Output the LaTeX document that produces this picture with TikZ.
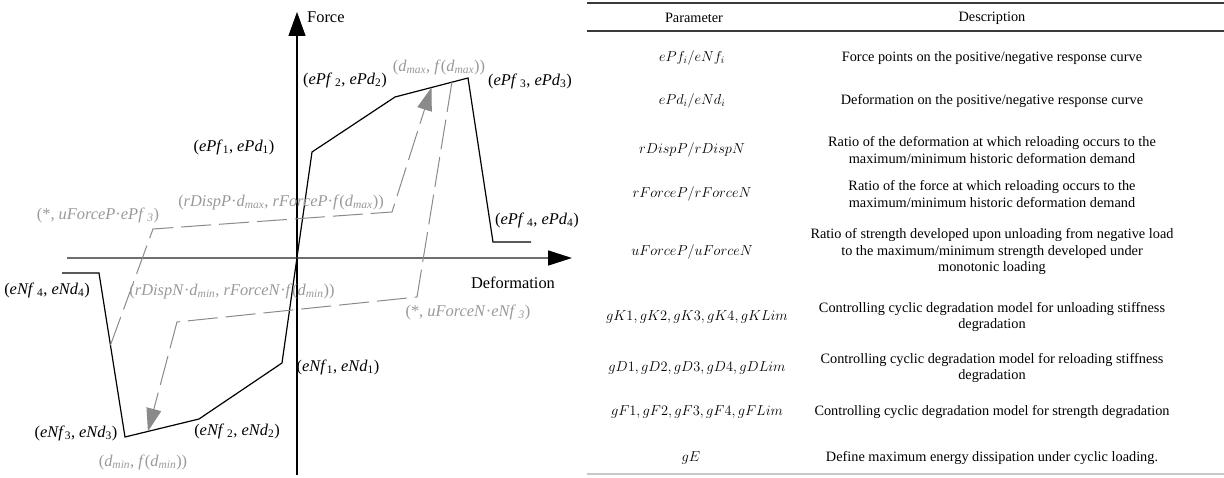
\documentclass[tikz,border=0pt]{standalone}
\usepackage{fontspec}
\setmainfont{Liberation Serif}
\usetikzlibrary{arrows.meta,calc}

\definecolor{loopgray}{HTML}{8A8A8A}
\definecolor{labgray}{HTML}{999999}
\definecolor{axisgray}{HTML}{6E6E6E}
\definecolor{rulegray}{HTML}{C8C8C8}
\definecolor{ruledark}{HTML}{3A3A3A}

\newcommand{\sub}[1]{\textsubscript{#1}}
\newcommand{\isub}[1]{\textsubscript{\itshape #1}}

\begin{document}
\begin{tikzpicture}[x=1pt,y=-1pt,
  lab/.style={font=\fontsize{16.4}{19}\selectfont, inner sep=0pt, anchor=center},
  glab/.style={lab, text=labgray},
  backbone/.style={line width=1.2pt, black, line join=miter},
  cyc/.style={line width=1pt, loopgray, dash pattern=on 30pt off 8pt},
  cyctip/.style={-{Triangle[length=23pt,width=15pt,color=loopgray,fill=loopgray]}},
  cell/.style={font=\fontsize{14.3}{16.5}\selectfont, inner sep=0pt, align=center, anchor=center},
  pcell/.style={font=\fontsize{14.5}{16}\selectfont, inner sep=0pt, anchor=center}
]
\useasboundingbox (0,0) rectangle (1224,478);

% ---------------- axes ----------------
\coordinate (O) at (297,258);
\coordinate (ybot) at (297,475);
\coordinate (ytop) at (297,12);
\coordinate (xleft) at (67,258);
\coordinate (xright) at (572,258);
\draw[line width=1.3pt, black, -{Triangle[length=24pt,width=17pt]}] (ybot) -- (ytop);
\draw[line width=1.5pt, axisgray, -{Triangle[length=24pt,width=15pt,color=black,fill=black]}] (xleft) -- (xright);
\node[lab, anchor=west] (force) at (307,17) {Force};
\node[lab] (deform) at (513,283) {Deformation};

% ---------------- backbone curve ----------------
\coordinate (N4a) at (62,273);
\coordinate (N4) at (99,273);
\coordinate (N3) at (125,437);
\coordinate (N2) at (199,419);
\coordinate (N1) at (282,363);
\coordinate (P1) at (312,152);
\coordinate (P2) at (395,97);
\coordinate (P3) at (468,78);
\coordinate (P4) at (493,242);
\coordinate (P4b) at (531,242);
\draw[backbone] (N4a) -- (N4) -- (N3) -- (N2) -- (N1) -- (P1) -- (P2) -- (P3) -- (P4) -- (P4b);

% ---------------- cyclic path ----------------
\coordinate (A0) at ($(N4)!0.44!(N3)$);
\coordinate (A1) at (153,229);
\coordinate (A2) at (392,212);
\coordinate (Amax) at ($(P2)!0.5!(P3)$);
\coordinate (B0) at ($(P2)!0.78!(P3)$);
\coordinate (B1) at (417,297);
\coordinate (B2) at (177,322);
\coordinate (Bmin) at ($(N3)!0.31!(N2)$);
\draw[cyc, cyctip] (A0) -- (A1) -- (A2) -- (Amax);
\draw[cyc, cyctip] (B0) -- (B1) -- (B2) -- (Bmin);

% ---------------- backbone labels ----------------
\node[lab] (lP1) at (234,147) {(\textit{ePf}\sub{1}, \textit{ePd}\sub{1})};
\node[lab] (lP2) at (345,80) {(\textit{ePf}\,\sub{2}, \textit{ePd}\sub{2})};
\node[lab] (lP3) at (530,81) {(\textit{ePf}\,\sub{3}, \textit{ePd}\sub{3})};
\node[lab] (lP4) at (537,220) {(\textit{ePf}\,\sub{4}, \textit{ePd}\sub{4})};
\node[lab] (lN4) at (47,290) {(\textit{eNf}\,\sub{4}, \textit{eNd}\sub{4})};
\node[lab] (lN3) at (76,433) {(\textit{eNf}\sub{3}, \textit{eNd}\sub{3})};
\node[lab] (lN2) at (237,431) {(\textit{eNf}\,\sub{2}, \textit{eNd}\sub{2})};
\node[lab] (lN1) at (338,367) {(\textit{eNf}\sub{1}, \textit{eNd}\sub{1})};

% ---------------- cyclic path labels ----------------
\node[glab] (ldmax) at (439,67) {(\textit{d}\isub{max}, \textit{f}(\textit{d}\isub{max}))};
\node[glab] (lrP) at (281,202) {(\textit{rDispP}·\textit{d}\isub{max}, \textit{rForceP}·\textit{f}(\textit{d}\isub{max}))};
\node[glab] (luP) at (98,215) {(*, \textit{uForceP}·\textit{ePf}\,\isub{3})};
\node[glab] (lrN) at (232,291) {(\textit{rDispN}·\textit{d}\isub{min}, \textit{rForceN}·\textit{f}(\textit{d}\isub{min}))};
\node[glab] (luN) at (468,312) {(*, \textit{uForceN}·\textit{eNf}\,\isub{3})};
\node[glab] (ldmin) at (143,462) {(\textit{d}\isub{min}, \textit{f}(\textit{d}\isub{min}))};

% ---------------- parameter table ----------------
\coordinate (TL) at (587,3);
\coordinate (TR) at (1224,3);
\coordinate (HL) at (587,31);
\coordinate (HR) at (1224,31);
\coordinate (BL) at (587,474);
\coordinate (BR) at (1224,474);
\draw[line width=2pt, ruledark] (TL) -- (TR);
\draw[line width=1.3pt, ruledark] (HL) -- (HR);
\draw[line width=1.6pt, rulegray] (BL) -- (BR);

\node[cell] (hpar) at (694,18) {Parameter};
\node[cell] (hdes) at (992,18) {Description};

\node[pcell] (p1) at (692,58) {$ePf_i/eNf_i$};
\node[cell] (d1) at (992,58) {Force points on the positive/negative response curve};

\node[pcell] (p2) at (692,101) {$ePd_i/eNd_i$};
\node[cell] (d2) at (992,101) {Deformation on the positive/negative response curve};

\node[pcell] (p3) at (692,150) {$rDispP/rDispN$};
\node[cell] (d3) at (992,150) {Ratio of the deformation at which reloading occurs to the\\maximum/minimum historic deformation demand};

\node[pcell] (p4) at (692,194) {$rForceP/rForceN$};
\node[cell] (d4) at (992,194) {Ratio of the force at which reloading occurs to the\\maximum/minimum historic deformation demand};

\node[pcell] (p5) at (692,252) {$uForceP/uForceN$};
\node[cell] (d5) at (992,252) {Ratio of strength developed upon unloading from negative load\\to the maximum/minimum strength developed under\\monotonic loading};

\node[pcell] (p6) at (697,317) {$gK1, gK2, gK3, gK4, gKLim$};
\node[cell] (d6) at (992,317) {Controlling cyclic degradation model for unloading stiffness\\degradation};

\node[pcell] (p7) at (697,368) {$gD1, gD2, gD3, gD4, gDLim$};
\node[cell] (d7) at (992,368) {Controlling cyclic degradation model for reloading stiffness\\degradation};

\node[pcell] (p8) at (697,412) {$gF1, gF2, gF3, gF4, gFLim$};
\node[cell] (d8) at (992,412) {Controlling cyclic degradation model for strength degradation};

\node[pcell] (p9) at (691,458) {$gE$};
\node[cell] (d9) at (992,458) {Define maximum energy dissipation under cyclic loading.};
\end{tikzpicture}
\end{document}
